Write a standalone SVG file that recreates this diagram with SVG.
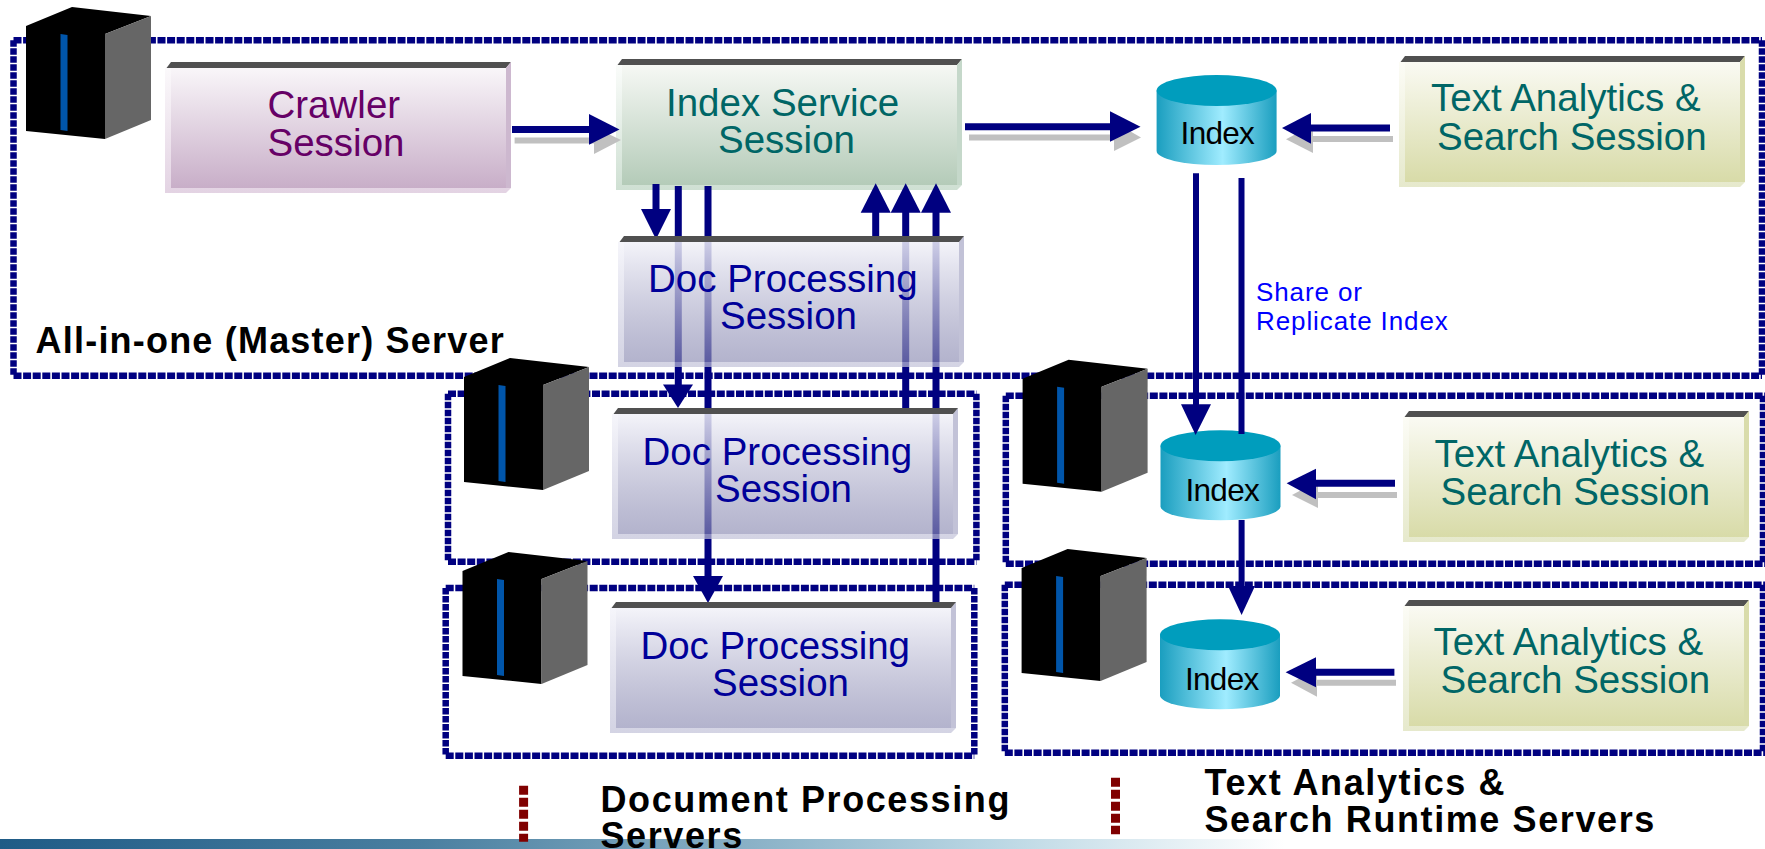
<svg xmlns="http://www.w3.org/2000/svg" width="1765" height="849" viewBox="0 0 1765 849">
<style>
text{font-family:"Liberation Sans",Arial,sans-serif}
.t{font-size:38.5px}
.c1{fill:#660066}.c2{fill:#006666}.c3{fill:#000099}
.h{font-size:36px;font-weight:bold;fill:#000;letter-spacing:1.6px}
.idx{font-size:31.5px;fill:#000;letter-spacing:-.7px}
.note{font-size:26px;fill:#0000ff;letter-spacing:.9px}
.fh{fill:none;stroke:#000080;stroke-width:6.5;stroke-dasharray:8 1.6}
.fv{fill:none;stroke:#000080;stroke-width:6.5;stroke-dasharray:6.5 1.5}
.bar{fill:#505050}
.ln{stroke:#000080;stroke-width:7;fill:none}
.hd{fill:#000080}
.sl{stroke:#c0c0c0;stroke-width:6;fill:none}
.sh{fill:#c0c0c0}
.face1{fill:url(#gCrawler)}.bev1{fill:url(#bCrawler)}.edge1{fill:#cdb8cf}
.face2{fill:url(#gIndex)}.bev2{fill:url(#bIndex)}.edge2{fill:#c5d8ca}
.face3{fill:url(#gDoc)}.bev3{fill:url(#bDoc)}.edge3{fill:#a8a8c6;fill-opacity:.7}
.face4{fill:url(#gText)}.bev4{fill:url(#bText)}.edge4{fill:#d9dcab}
.cb{fill:url(#gCyl)}.ct{fill:#009dbd}
.sf{fill:#000}.ss{fill:#666}.sb{fill:#0055aa}
.leg{fill:none;stroke:#800000;stroke-width:9;stroke-dasharray:9 3}
</style>
<defs>
<linearGradient id="gCrawler" x1="0" y1="0" x2="0" y2="1"><stop offset="0" stop-color="#f9f6f9"/><stop offset="1" stop-color="#c8aec8"/></linearGradient>
<linearGradient id="gIndex" x1="0" y1="0" x2="0" y2="1"><stop offset="0" stop-color="#f6f8f4"/><stop offset="1" stop-color="#b4cbb8"/></linearGradient>
<linearGradient id="gDoc" x1="0" y1="0" x2="0" y2="1"><stop offset="0" stop-color="#f2f2f9" stop-opacity=".85"/><stop offset="1" stop-color="#8c8cb3" stop-opacity=".66"/></linearGradient>
<linearGradient id="gText" x1="0" y1="0" x2="0" y2="1"><stop offset="0" stop-color="#fafaf3"/><stop offset="1" stop-color="#d8dba8"/></linearGradient>
<linearGradient id="bCrawler" x1="0" y1="0" x2="0" y2="1"><stop offset="0" stop-color="#fbf9fb"/><stop offset="1" stop-color="#e3d3e3"/></linearGradient>
<linearGradient id="bIndex" x1="0" y1="0" x2="0" y2="1"><stop offset="0" stop-color="#fafcfa"/><stop offset="1" stop-color="#cfe0d3"/></linearGradient>
<linearGradient id="bDoc" x1="0" y1="0" x2="0" y2="1"><stop offset="0" stop-color="#f4f4fa" stop-opacity=".85"/><stop offset="1" stop-color="#c1c1d8" stop-opacity=".7"/></linearGradient>
<linearGradient id="bText" x1="0" y1="0" x2="0" y2="1"><stop offset="0" stop-color="#fcfcf6"/><stop offset="1" stop-color="#e6e9cc"/></linearGradient>
<linearGradient id="gCyl" x1="0" y1="0" x2="1" y2="0"><stop offset="0" stop-color="#1a9ebf"/><stop offset=".55" stop-color="#a0ecff"/><stop offset="1" stop-color="#1a9ebf"/></linearGradient>
<linearGradient id="gBottom" x1="0" y1="0" x2="1" y2="0"><stop offset="0" stop-color="#1f5b86"/><stop offset=".33" stop-color="#4a7fa0"/><stop offset=".77" stop-color="#b9d6e3"/><stop offset="1" stop-color="#ffffff"/></linearGradient>
<g id="server">
<polygon class="sf" points="26,26 72,7 151,16 105,34 105,139 26,131"/>
<polygon class="ss" points="105,34 151,16 151,120 105,139"/>
<polygon class="sb" points="60.5,34 67.5,35 67.5,131 60.5,130"/>
</g>
</defs>

<rect id="bottom-bar" x="0" y="839" width="1285" height="10" fill="url(#gBottom)"/>

<g id="frames">
<g id="frame-master"><path class="fh" d="M13.5 40.3H1762M13.5 375.7H1762"/><path class="fv" d="M13.5 40.3V375.7M1762 40.3V375.7"/></g>
<g id="frame-doc1"><path class="fh" d="M448 393.7H976.4M448 561.7H976.4"/><path class="fv" d="M448 393.7V561.7M976.4 393.7V561.7"/></g>
<g id="frame-doc2"><path class="fh" d="M445.7 588H974.3M445.7 755.7H974.3"/><path class="fv" d="M445.7 588V755.7M974.3 588V755.7"/></g>
<g id="frame-text1"><path class="fh" d="M1005.8 395.7H1765M1005.8 563.7H1765"/><path class="fv" d="M1005.8 395.7V563.7M1763 395.7V563.7"/></g>
<g id="frame-text2"><path class="fh" d="M1004.8 584.7H1765M1004.8 752.7H1765"/><path class="fv" d="M1004.8 584.7V752.7M1763 584.7V752.7"/></g>
</g>

<g id="server-master"><use href="#server"/></g>
<g id="server-doc1"><use href="#server" transform="translate(438,351)"/></g>
<g id="server-doc2"><use href="#server" transform="translate(436.5,545)"/></g>
<g id="server-text1"><use href="#server" transform="translate(996.6,352.7)"/></g>
<g id="server-text2"><use href="#server" transform="translate(995.6,542)"/></g>

<g id="crawler-session" transform="translate(165,62)">
<polygon class="bar" points="1.5,6 6,0 346,0 341,6"/>
<rect class="face1" x="6" y="6" width="335" height="120"/>
<path class="bev1" d="M0 6H6V126H341L346 126L341 131H0Z"/>
<polygon class="edge1" points="341,6 346,0 346,126 341,126"/>
<text class="t c1" x="102.5" y="55.5">Crawler</text>
<text class="t c1" x="102.5" y="93.5">Session</text>
</g>

<g id="index-service-session" transform="translate(616,59)">
<polygon class="bar" points="1.5,6 6,0 346,0 341,6"/>
<rect class="face2" x="6" y="6" width="335" height="120"/>
<path class="bev2" d="M0 6H6V126H341L346 126L341 131H0Z"/>
<polygon class="edge2" points="341,6 346,0 346,126 341,126"/>
<text class="t c2" x="50" y="56.5">Index Service</text>
<text class="t c2" x="102" y="93.5">Session</text>
</g>

<g id="text-session-master" transform="translate(1399,56)">
<polygon class="bar" points="1.5,6 6,0 346,0 341,6"/>
<rect class="face4" x="6" y="6" width="335" height="120"/>
<path class="bev4" d="M0 6H6V126H341L346 126L341 131H0Z"/>
<polygon class="edge4" points="341,6 346,0 346,126 341,126"/>
<text class="t c2" x="32" y="55.3">Text Analytics &amp;</text>
<text class="t c2" x="38" y="94">Search Session</text>
</g>

<g id="text-session-1" transform="translate(1403,411)">
<polygon class="bar" points="1.5,6 6,0 346,0 341,6"/>
<rect class="face4" x="6" y="6" width="335" height="120"/>
<path class="bev4" d="M0 6H6V126H341L346 126L341 131H0Z"/>
<polygon class="edge4" points="341,6 346,0 346,126 341,126"/>
<text class="t c2" x="31.5" y="56">Text Analytics &amp;</text>
<text class="t c2" x="37.5" y="94">Search Session</text>
</g>

<g id="text-session-2" transform="translate(1403,600)">
<polygon class="bar" points="1.5,6 6,0 346,0 341,6"/>
<rect class="face4" x="6" y="6" width="335" height="120"/>
<path class="bev4" d="M0 6H6V126H341L346 126L341 131H0Z"/>
<polygon class="edge4" points="341,6 346,0 346,126 341,126"/>
<text class="t c2" x="30.5" y="55">Text Analytics &amp;</text>
<text class="t c2" x="37.5" y="93">Search Session</text>
</g>

<g id="index-master" transform="translate(1156.6,75)">
<path class="cb" d="M0 15.5V76A60 14 0 0 0 120 76V15.5Z"/>
<ellipse class="ct" cx="60" cy="15.5" rx="60" ry="15.5"/>
<text class="idx" x="24" y="69.3">Index</text>
</g>
<g id="index-1" transform="translate(1160.5,430.3)">
<path class="cb" d="M0 15.5V76A60 14 0 0 0 120 76V15.5Z"/>
<ellipse class="ct" cx="60" cy="15.5" rx="60" ry="15.5"/>
<text class="idx" x="25" y="70.4">Index</text>
</g>
<g id="index-2" transform="translate(1160,619.3)">
<path class="cb" d="M0 15.5V76A60 14 0 0 0 120 76V15.5Z"/>
<ellipse class="ct" cx="60" cy="15.5" rx="60" ry="15.5"/>
<text class="idx" x="25" y="70.7">Index</text>
</g>

<g id="connectors">
<path class="sl" d="M514.6 140.5H600M969 137.5H1120M1393 139H1305M1397 495H1310M1396 682.7H1310"/>
<polygon class="sh" points="594,127 594,154 621,140"/>
<polygon class="sh" points="1114,122 1114,151 1141,137.5"/>
<polygon class="sh" points="1313,125 1313,153 1286,139.3"/>
<polygon class="sh" points="1318,481 1318,508 1292,495"/>
<polygon class="sh" points="1317,669 1317,696.7 1291,682.7"/>

<path class="ln" d="M512 129.5H592"/><polygon class="hd" points="589,114 589,144.7 619.5,129.5"/>
<path class="ln" d="M965 126.7H1113"/><polygon class="hd" points="1110,111.3 1110,141.7 1140.5,126.7"/>
<path class="ln" d="M1390 128H1308"/><polygon class="hd" points="1311,113 1311,143.7 1282,128"/>
<path class="ln" d="M1395 483.3H1313"/><polygon class="hd" points="1316,468.7 1316,499.3 1286.6,483.3"/>
<path class="ln" d="M1394.4 672.3H1313"/><polygon class="hd" points="1316,657.3 1316,687.3 1285.6,672.3"/>

<path class="ln" d="M656 184V212"/><polygon class="hd" points="641,209 671,209 656,239.3"/>
<path class="ln" d="M678.3 186V388"/><polygon class="hd" points="663,384.5 693,384.5 678,408"/>
<path class="ln" d="M708 186V579"/><polygon class="hd" points="693,576 723,576 708,603"/>

<path class="ln" d="M875.7 236V210"/><polygon class="hd" points="860.7,212.7 890.7,212.7 875.7,183.3"/>
<path class="ln" d="M905.7 408V210"/><polygon class="hd" points="890.7,212.7 920.7,212.7 905.7,183.3"/>
<path class="ln" d="M936 603V210"/><polygon class="hd" points="921,212.7 951,212.7 936,183.3"/>

<path class="ln" style="stroke-width:6" d="M1196 173.3V407"/><polygon class="hd" points="1181,404.3 1211,404.3 1195.6,435"/>
<path class="ln" style="stroke-width:6" d="M1241.5 178V434M1241.6 520V590"/><polygon class="hd" points="1228,586 1255,586 1241.6,615"/>
</g>

<g id="doc-session-master" transform="translate(618,236)">
<rect class="face3" x="6" y="6" width="335" height="120"/>
<path class="bev3" d="M0 6H6V126H341L346 126L341 131H0Z"/>
<polygon class="edge3" points="341,6 346,0 346,126 341,126"/>
<polygon class="bar" points="1.5,6 6,0 346,0 341,6"/>
<text class="t c3" x="30" y="56">Doc Processing</text>
<text class="t c3" x="102" y="93">Session</text>
</g>
<g id="doc-session-1" transform="translate(612,408)">
<rect class="face3" x="6" y="6" width="335" height="120"/>
<path class="bev3" d="M0 6H6V126H341L346 126L341 131H0Z"/>
<polygon class="edge3" points="341,6 346,0 346,126 341,126"/>
<polygon class="bar" points="1.5,6 6,0 346,0 341,6"/>
<text class="t c3" x="30.5" y="57">Doc Processing</text>
<text class="t c3" x="103" y="93.7">Session</text>
</g>
<g id="doc-session-2" transform="translate(610,602)">
<rect class="face3" x="6" y="6" width="335" height="120"/>
<path class="bev3" d="M0 6H6V126H341L346 126L341 131H0Z"/>
<polygon class="edge3" points="341,6 346,0 346,126 341,126"/>
<polygon class="bar" points="1.5,6 6,0 346,0 341,6"/>
<text class="t c3" x="30.4" y="56.7">Doc Processing</text>
<text class="t c3" x="102" y="93.7">Session</text>
</g>

<g id="labels">
<text class="h" style="letter-spacing:1.2px" x="35.6" y="352.7">All-in-one (Master) Server</text>
<text class="note" x="1256" y="300.7">Share or</text>
<text class="note" x="1256" y="330">Replicate Index</text>
<path class="leg" d="M523.6 785.7V841.7"/>
<text class="h" x="600.5" y="811.7">Document Processing</text>
<text class="h" x="600.5" y="848">Servers</text>
<path class="leg" d="M1115.5 777.7V834.3"/>
<text class="h" x="1204.5" y="795">Text Analytics &amp;</text>
<text class="h" x="1204.5" y="831.7">Search Runtime Servers</text>
</g>
</svg>
